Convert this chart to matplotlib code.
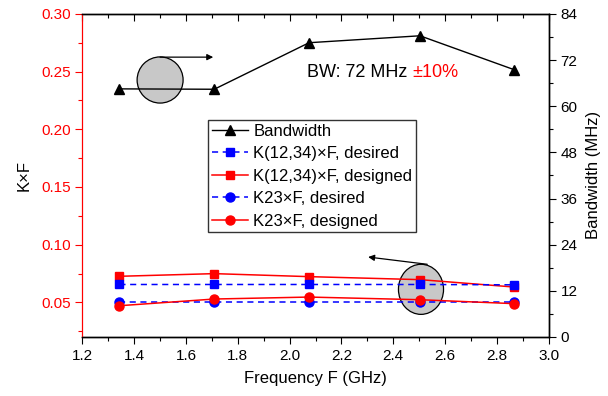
import matplotlib
matplotlib.use("Agg")
import matplotlib.pyplot as plt
from matplotlib.patches import Ellipse
from matplotlib.lines import Line2D
from matplotlib.ticker import MultipleLocator, FormatStrFormatter

plt.rcParams['font.family'] = ['Liberation Sans', 'DejaVu Sans']
plt.rcParams['font.size'] = 11

freq = [1.343, 1.709, 2.075, 2.503, 2.866]
bandwidth = [64.5, 64.4, 76.5, 78.3, 69.5]
k1234_desired = [0.0655, 0.0655, 0.0655, 0.0655, 0.0652]
k1234_designed = [0.0726, 0.0749, 0.0723, 0.0697, 0.0633]
k23_desired = [0.0505, 0.0505, 0.0505, 0.0505, 0.0505]
k23_designed = [0.0471, 0.0529, 0.0546, 0.0523, 0.0489]

fig = plt.figure(figsize=(6.08, 3.96), dpi=100)
ax = fig.add_axes([0.1355, 0.149, 0.767, 0.816])
ax2 = ax.twinx()

red = '#ff0000'
blue = '#0000ff'

ax.plot(freq, k1234_designed, '-', color=red, lw=1.1, marker='s', ms=6, zorder=3)
ax.plot(freq, k1234_desired, '--', color=blue, lw=1.1, marker='s', ms=6, dashes=(4, 3), zorder=4)
ax.plot(freq, k23_desired, '--', color=blue, lw=1.1, marker='o', ms=6.5, dashes=(4, 3), zorder=5)
ax.plot(freq, k23_designed, '-', color=red, lw=1.1, marker='o', ms=6.5, zorder=6)

ax2.plot(freq, bandwidth, '-', color='black', lw=1.0, marker='^', ms=6.5)

ax.set_xlim(1.2, 3.0)
ax.set_ylim(0.02, 0.30)
ax2.set_ylim(0, 84)

ax.xaxis.set_major_locator(MultipleLocator(0.2))
ax.xaxis.set_minor_locator(MultipleLocator(0.1))
ax.yaxis.set_major_locator(MultipleLocator(0.05))
ax.yaxis.set_minor_locator(MultipleLocator(0.025))
ax2.yaxis.set_major_locator(MultipleLocator(12))
ax2.yaxis.set_minor_locator(MultipleLocator(6))
ax.xaxis.set_major_formatter(FormatStrFormatter('%.1f'))
ax.yaxis.set_major_formatter(FormatStrFormatter('%.2f'))

ax.tick_params(axis='x', which='major', direction='out', length=5, width=0.8, top=True)
ax.tick_params(axis='x', which='minor', direction='out', length=3, width=0.8, top=True)
ax.tick_params(axis='x', which='both', labelsize=11)
ax.tick_params(axis='y', which='major', direction='out', length=5, width=0.8, colors=red, labelsize=11)
ax.tick_params(axis='y', which='minor', direction='out', length=3, width=0.8, colors=red)
ax2.tick_params(axis='y', which='major', direction='out', length=5, width=0.8, labelsize=11)
ax2.tick_params(axis='y', which='minor', direction='out', length=3, width=0.8)
ax.spines['left'].set_color(red)
ax2.spines['left'].set_color(red)
for s in ['top', 'bottom', 'right']:
    ax.spines[s].set_linewidth(1.0)
    ax2.spines[s].set_linewidth(1.0)

# top ticks inward
for t in ax.xaxis.get_major_ticks() + ax.xaxis.get_minor_ticks():
    t.tick2line.set_marker(matplotlib.lines.TICKDOWN)

ax.set_xlabel('Frequency F (GHz)', fontsize=12, labelpad=6)
ax.set_ylabel('K×F', fontsize=12, labelpad=7)
ax2.set_ylabel('Bandwidth (MHz)', fontsize=12, labelpad=6)

# annotations
ax.add_patch(Ellipse((1.50, 0.2427), 0.1775, 0.040, facecolor='#c8c8c8', edgecolor='black', lw=0.9, zorder=1))
ax.add_patch(Ellipse((2.507, 0.0613), 0.174, 0.0434, facecolor='#c8c8c8', edgecolor='black', lw=0.9, zorder=1))
ax.annotate('', xy=(1.705, 0.2625), xytext=(1.50, 0.2625),
            arrowprops=dict(arrowstyle='-|>', color='black', lw=0.9, mutation_scale=9,
                            shrinkA=0, shrinkB=0), zorder=2)
ax.annotate('', xy=(2.303, 0.0893), xytext=(2.531, 0.0830),
            arrowprops=dict(arrowstyle='-|>', color='black', lw=0.9, mutation_scale=9,
                            shrinkA=0, shrinkB=0), zorder=2)
t1 = ax.text(2.067, 0.2488, 'BW: 72 MHz ', fontsize=13, va='center', ha='left')
ax.annotate('±10%', xy=(1, 0.5), xycoords=t1, va='center', ha='left', fontsize=13, color=red)

handles = [
    Line2D([], [], color='black', lw=1.0, marker='^', ms=6.5),
    Line2D([], [], color=blue, lw=1.1, ls='--', dashes=(4, 3), marker='s', ms=6),
    Line2D([], [], color=red, lw=1.1, marker='s', ms=6),
    Line2D([], [], color=blue, lw=1.1, ls='--', dashes=(4, 3), marker='o', ms=6.5),
    Line2D([], [], color=red, lw=1.1, marker='o', ms=6.5),
]
labels = ['Bandwidth', 'K(12,34)×F, desired', 'K(12,34)×F, designed',
          'K23×F, desired', 'K23×F, designed']
leg = ax2.legend(handles, labels, loc='upper left', bbox_to_anchor=(0.2695, 0.672),
                 borderaxespad=0, fancybox=False, edgecolor='#333333', framealpha=1,
                 handlelength=2.2, handletextpad=0.3, labelspacing=0.45, borderpad=0.22,
                 fontsize=12)
leg.get_frame().set_linewidth(1.0)

fig.savefig('out.png', dpi=100)
